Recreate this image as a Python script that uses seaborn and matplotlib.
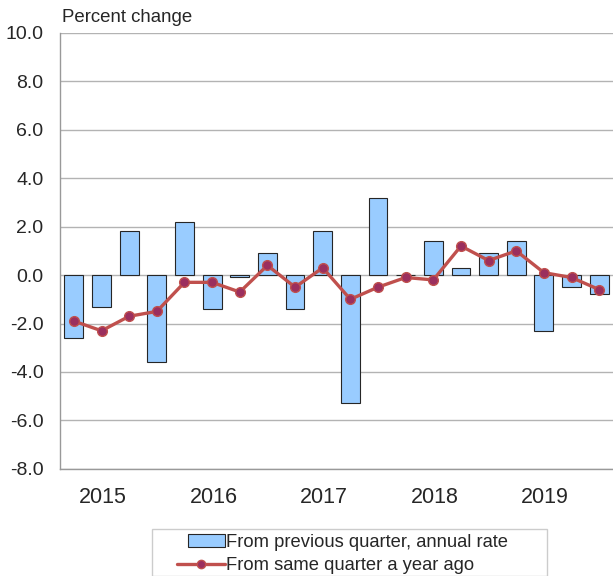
import numpy as np
import pandas as pd
import seaborn as sns
import matplotlib.pyplot as plt
from matplotlib.patches import Patch, Rectangle
from matplotlib.lines import Line2D
from matplotlib.legend_handler import HandlerPatch

years = ["2015", "2016", "2017", "2018", "2019"]
quarters = [f"{y}Q{q}" for y in years for q in range(1, 5)]
prev_quarter = [-2.6, -1.3, 1.8, -3.6,
                2.2, -1.4, -0.1, 0.9,
                -1.4, 1.8, -5.3, 3.2,
                0.0, 1.4, 0.3, 0.9,
                1.4, -2.3, -0.5, -0.8]
year_ago = [-1.9, -2.3, -1.7, -1.5,
            -0.3, -0.3, -0.7, 0.4,
            -0.5, 0.3, -1.0, -0.5,
            -0.1, -0.2, 1.2, 0.6,
            1.0, 0.1, -0.1, -0.6]

df = pd.DataFrame({"quarter": quarters, "prev": prev_quarter,
                   "ago": year_ago, "pos": range(len(quarters))})

sns.set_style("white")
plt.rcParams['font.family'] = ['Liberation Sans', 'DejaVu Sans']

fig = plt.figure(figsize=(6.13, 5.76), dpi=100)
ax = fig.add_axes([0.098, 0.186, 0.902, 0.757])

bar_c = "#99CCFF"
line_c = "#C0504D"
mark_c = "#9B2F5E"
edge_c = "#262626"

sns.barplot(data=df, x="quarter", y="prev", color=bar_c, width=0.68,
            edgecolor=edge_c, linewidth=0.8, saturation=1, ax=ax, zorder=2)
sns.lineplot(data=df, x="pos", y="ago", color=line_c, linewidth=2.4,
             marker="o", markersize=7, markerfacecolor=mark_c,
             markeredgecolor=line_c, markeredgewidth=1.0, ax=ax, zorder=3)

ax.set_xlim(-0.5, 19.5)
ax.set_ylim(-8, 10)
yt = np.arange(-8, 10.1, 2)
ax.set_yticks(yt)
ax.set_yticklabels([f"{v:.1f}" for v in yt], fontsize=14)
ax.set_xticks([4 * i + 1.05 for i in range(len(years))])
ax.set_xticklabels(years, fontsize=15.5)
ax.tick_params(axis="x", length=0, pad=13)
ax.tick_params(axis="y", length=0, pad=12)
ax.set_xlabel("")
ax.set_ylabel("")
ax.yaxis.grid(True, color="#b3b3b3", linewidth=1.0, zorder=0)
ax.set_axisbelow(True)
for s in ["top", "right"]:
    ax.spines[s].set_visible(False)
for s in ["left", "bottom"]:
    ax.spines[s].set_color("#999999")
    ax.spines[s].set_linewidth(1.0)

fig.text(62 / 613, 1 - 18 / 576, "Percent change", fontsize=13.4, va="center", ha="left")

# legend frame drawn separately so the padding can match the original
fig.patches.append(Rectangle((152 / 613, 0), (547 - 152) / 613, 1 - 529 / 576,
                             transform=fig.transFigure, facecolor="white",
                             edgecolor="#cccccc", linewidth=1.0))


def narrow_patch(legend, orig_handle, xdescent, ydescent, width, height, fontsize):
    return Rectangle((-xdescent + 0.23 * width, -ydescent), 0.77 * width, height)


handles = [Patch(facecolor=bar_c, edgecolor=edge_c, linewidth=0.8),
           Line2D([0], [0], color=line_c, linewidth=2.4, marker="o", markersize=6,
                  markerfacecolor=mark_c, markeredgecolor=line_c)]
labels = ["From previous quarter, annual rate", "From same quarter a year ago"]
leg = fig.legend(handles, labels, loc="upper left",
                 bbox_to_anchor=(177 / 613, 1 - 534 / 576), fontsize=13.2,
                 frameon=False, handlelength=2.6, handletextpad=0.1,
                 borderpad=0.0, labelspacing=0.35, borderaxespad=0,
                 handler_map={Patch: HandlerPatch(patch_func=narrow_patch)})

fig.savefig("out.png", dpi=100)
